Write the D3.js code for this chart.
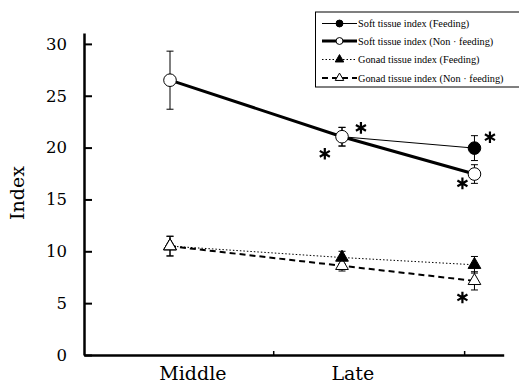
<!DOCTYPE html>
<html>
<head>
<meta charset="utf-8">
<script src="https://cdn.jsdelivr.net/npm/d3@7"></script>
<style>
  html, body { margin: 0; padding: 0; background: #fff; }
  svg { display: block; }
</style>
</head>
<body>
<svg id="chart" width="519" height="388"></svg>
<script>
// ---------------- DATA ----------------
const categories = ["Middle", "Late"];
const categoryLabelPos = [1.13, 2.06];     // where the category labels sit on the x domain
const categoryTickPos = [1.6, 2.71];       // x-axis tick marks
const samplePos = [1, 2, 2.77];            // sampling occasions on the x domain
const yTicks = [0, 5, 10, 15, 20, 25, 30];

const softFeeding      = [null, 21.05, 19.95];
const softFeedingErr   = [null, 0.9, 1.2];
const softNonFeeding   = [26.5, 21.05, 17.45];
const softNonFeedingErr= [2.8, 0.9, 0.9];
const gonadFeeding     = [10.5, 9.4, 8.7];
const gonadFeedingErr  = [0.95, 0.6, 0.8];
const gonadNonFeeding  = [10.5, 8.6, 7.15];
const gonadNonFeedingErr = [0.95, 0.5, 0.88];

// significance asterisks, in data coordinates [x, index]
const asterisks = [[1.90, 19.4], [2.11, 21.9], [2.86, 21.0], [2.70, 16.55], [2.70, 5.55]];

const legendLabels = [
  "Soft tissue index (Feeding)",
  "Soft tissue index (Non \u00b7 feeding)",
  "Gonad tissue index (Feeding)",
  "Gonad tissue index (Non \u00b7 feeding)"
];

// ---------------- CHART ----------------
const svg = d3.select("#chart");
const serif = "'DejaVu Serif', serif";
const legendFont = "'Liberation Serif', serif";

const x = d3.scaleLinear().domain([0.5, 2.94]).range([84, 503.7]);
const y = d3.scaleLinear().domain([0, 31.05]).range([355, 33]);

const series = [
  { vals: softFeeding, err: softFeedingErr, filled: true, shape: "circle", width: 1, dash: null },
  { vals: softNonFeeding, err: softNonFeedingErr, filled: false, shape: "circle", width: 3, dash: null },
  { vals: gonadFeeding, err: gonadFeedingErr, filled: true, shape: "triangle", width: 1, dash: "1.5,2" },
  { vals: gonadNonFeeding, err: gonadNonFeedingErr, filled: false, shape: "triangle", width: 2, dash: "6,4" }
];

// Y axis
const yAxis = d3.axisLeft(y).tickValues(yTicks).tickSize(-8).tickSizeOuter(0).tickPadding(17);
const gy = svg.append("g").attr("transform", "translate(84,0)").call(yAxis);
gy.select(".domain").attr("stroke", "#000").attr("stroke-width", 2.5);
gy.selectAll(".tick line").attr("stroke", "#000").attr("stroke-width", 2);
gy.selectAll(".tick text").attr("font-family", serif).attr("font-size", 16.5).attr("fill", "#000");

// X axis: tick marks
const xAxisTicks = d3.axisBottom(x).tickValues(categoryTickPos).tickSize(-4).tickSizeOuter(0).tickFormat("");
const gx = svg.append("g").attr("transform", "translate(0,355)").call(xAxisTicks);
gx.select(".domain").attr("stroke", "#000").attr("stroke-width", 2.5);
gx.selectAll(".tick line").attr("stroke", "#000").attr("stroke-width", 1.5);

// X axis: labels
const xAxisLabels = d3.axisBottom(x).tickValues(categoryLabelPos).tickSize(0).tickPadding(12)
  .tickFormat((d, i) => categories[i]);
const gxl = svg.append("g").attr("transform", "translate(0,355)").call(xAxisLabels);
gxl.select(".domain").remove();
gxl.selectAll(".tick text").attr("font-family", serif).attr("font-size", 19).attr("fill", "#000");

// Y label
svg.append("text")
  .attr("transform", "translate(24,193) rotate(-90)")
  .attr("text-anchor", "middle")
  .attr("font-family", serif).attr("font-size", 19)
  .text("Index");

// Lines
const line = d3.line()
  .defined(d => d.v !== null)
  .x(d => x(d.x)).y(d => y(d.v));

series.forEach(s => {
  const pts = s.vals.map((v, i) => ({ x: samplePos[i], v }));
  svg.append("path").datum(pts)
    .attr("d", line)
    .attr("fill", "none").attr("stroke", "#000")
    .attr("stroke-width", s.width)
    .attr("stroke-dasharray", s.dash);
});

// Error bars
series.forEach(s => {
  s.vals.forEach((v, i) => {
    if (v === null) return;
    const e = s.err[i];
    const cx = x(samplePos[i]);
    const g = svg.append("g").attr("stroke", "#000").attr("stroke-width", 1);
    g.append("line").attr("x1", cx).attr("x2", cx).attr("y1", y(v + e)).attr("y2", y(v - e));
    g.append("line").attr("x1", cx - 3.5).attr("x2", cx + 3.5).attr("y1", y(v + e)).attr("y2", y(v + e));
    g.append("line").attr("x1", cx - 3.5).attr("x2", cx + 3.5).attr("y1", y(v - e)).attr("y2", y(v - e));
  });
});

// Markers
function drawMarker(g, s, cx, cy, scale) {
  const sym = s.shape === "circle" ? d3.symbol().type(d3.symbolCircle).size(125 * scale)
                                    : d3.symbol().type(d3.symbolTriangle).size(70 * scale);
  g.append("path")
    .attr("d", sym())
    .attr("transform", `translate(${cx},${cy})`)
    .attr("fill", s.filled ? "#000" : "#fff")
    .attr("stroke", "#000").attr("stroke-width", 1);
}
[1, 3, 2, 0].forEach(k => {
  const s = series[k];
  s.vals.forEach((v, i) => {
    if (v === null) return;
    if (k === 0 && i === 1) return; // shared point drawn as open circle
    drawMarker(svg, s, x(samplePos[i]), y(v), 1);
  });
});
drawMarker(svg, series[3], x(samplePos[0]), y(gonadNonFeeding[0]), 1);

// Asterisks
function asteriskPath(r) {
  const t = r / 2, u = t * Math.sqrt(3);
  return `M0,${r}L0,${-r}M${-u},${-t}L${u},${t}M${-u},${t}L${u},${-t}`;
}
svg.append("g").selectAll("path").data(asterisks).join("path")
  .attr("d", asteriskPath(5.8))
  .attr("transform", d => `translate(${x(d[0])},${y(d[1])})`)
  .attr("stroke", "#000").attr("stroke-width", 2.2).attr("fill", "none");

// Legend
const lg = svg.append("g");
lg.append("rect").attr("x", 315.5).attr("y", 12).attr("width", 215).attr("height", 75)
  .attr("fill", "#fff").attr("stroke", "#000").attr("stroke-width", 1);
const rowY = [23.5, 41, 59.5, 78];
series.forEach((s, i) => {
  const ry = rowY[i];
  lg.append("line").attr("x1", 322).attr("x2", 357).attr("y1", ry).attr("y2", ry)
    .attr("stroke", "#000").attr("stroke-width", s.width).attr("stroke-dasharray", s.dash);
  drawMarker(lg, s, 339.5, ry, s.shape === "circle" ? 0.3 : 0.45);
  lg.append("text").attr("x", 358).attr("y", ry).attr("dy", "0.35em")
    .attr("font-family", legendFont).attr("font-size", 10.3).attr("fill", "#000")
    .text(legendLabels[i]);
});
</script>
</body>
</html>
